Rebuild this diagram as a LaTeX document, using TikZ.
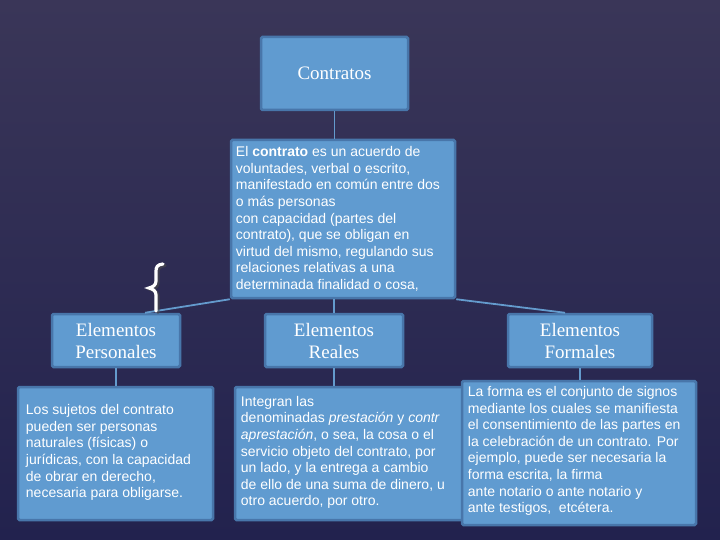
\documentclass[tikz,border=0pt]{standalone}
\usepackage{fontspec}
\setmainfont{Liberation Serif}
\setsansfont{Liberation Sans}
\definecolor{bgtop}{RGB}{58,54,88}
\definecolor{bgbot}{RGB}{34,34,78}
\definecolor{boxfill}{RGB}{96,155,208}
\definecolor{boxline}{RGB}{72,118,170}
\definecolor{conn}{RGB}{100,155,205}
\tikzset{
  box/.style={draw=boxline, fill=boxfill, line width=2.5pt, rounded corners=1.5pt, inner sep=0pt},
  title/.style={font=\fontsize{19}{22}\selectfont, text=white, align=center, inner sep=0pt},
  body/.style={font=\sffamily\fontsize{14}{16.6}\selectfont, text=white, align=left, inner sep=0pt, anchor=west},
  link/.style={draw=conn, line width=1.8pt}
}
\begin{document}
\begin{tikzpicture}[x=1pt,y=-1pt]
\useasboundingbox (0,0) rectangle (720,540);
\fill[top color=bgtop, bottom color=bgbot] (0,0) rectangle (720,540);

% boxes
\node[box, minimum width=147pt, minimum height=73pt] (contratos) at (334.5,73.5) {};
\node[box, minimum width=224pt, minimum height=158pt] (def) at (343,219) {};
\node[box, minimum width=128pt, minimum height=53pt] (pers) at (116,340.5) {};
\node[box, minimum width=138pt, minimum height=53pt] (reales) at (334,340.5) {};
\node[box, minimum width=144pt, minimum height=53pt] (formales) at (580,340.5) {};
\node[box, minimum width=195pt, minimum height=133pt] (bl) at (115.5,453.5) {};
\node[box, minimum width=230pt, minimum height=133pt] (bm) at (350,453.5) {};
\node[box, minimum width=234pt, minimum height=144pt] (br) at (579,453) {};

% connectors
\draw[link] (contratos.south) -- (contratos.south |- def.north);
\draw[link] (reales.north) -- (reales.north |- def.south);
\draw[link] (def.south west) -- ([xshift=29pt]pers.north);
\draw[link] (def.south east) -- ([xshift=-15pt]formales.north);
\draw[link] (pers.south) -- (pers.south |- bl.north);
\draw[link] (reales.south) -- (reales.south |- bm.north);
\draw[link] (formales.south) -- (formales.south |- br.north);

% brace
\coordinate (bt) at (163,264);
\draw[black!70, line width=3.2pt, line cap=round, opacity=0.6, shift={(2,1.5)}]
  (163,264) .. controls (157.5,264.5) and (156,267) .. (156,271) -- (156,281)
  .. controls (156,285) and (153,287) .. (149,288)
  .. controls (153,289) and (156,291) .. (156,295) -- (156,311);
\draw[white, line width=3.2pt, line cap=round]
  (bt) .. controls (157.5,264.5) and (156,267) .. (156,271) -- (156,281)
  .. controls (156,285) and (153,287) .. (149,288)
  .. controls (153,289) and (156,291) .. (156,295) -- (156,311);

% titles
\node[title] (tcontratos) at (contratos.center) {Contratos};
\node[title] (tpers) at (pers.center) {Elementos\\Personales};
\node[title] (treales) at (reales.center) {Elementos\\Reales};
\node[title] (tformales) at (formales.center) {Elementos\\Formales};

% texts
\node[body] (tdef) at ([xshift=6pt]def.west) {El \textbf{contrato} es un acuerdo de\\voluntades, verbal o escrito,\\manifestado en común entre dos\\o más personas\\con capacidad (partes del\\contrato), que se obligan en\\virtud del mismo, regulando sus\\relaciones relativas a una\\determinada finalidad o cosa,};
\node[body] (tbl) at ([xshift=9pt,yshift=1pt]bl.west) {Los sujetos del contrato\\pueden ser personas\\naturales (físicas) o\\jurídicas, con la capacidad\\de obrar en derecho,\\necesaria para obligarse.};
\node[body] (tbm) at ([xshift=7pt,yshift=1pt]bm.west) {Integran las\\denominadas \textit{prestación} y \textit{contr}\\\textit{aprestación}, o sea, la cosa o el\\servicio objeto del contrato, por\\un lado, y la entrega a cambio\\de ello de una suma de dinero, u\\otro acuerdo, por otro.};
\node[body] (tbr) at ([xshift=7pt,yshift=2pt]br.west) {La forma es el conjunto de signos\\mediante los cuales se manifiesta\\el consentimiento de las partes en\\la celebración de un contrato. Por\\ejemplo, puede ser necesaria la\\forma escrita, la firma\\ante notario o ante notario y\\ante testigos,\ \ etcétera.};
\end{tikzpicture}
\end{document}
